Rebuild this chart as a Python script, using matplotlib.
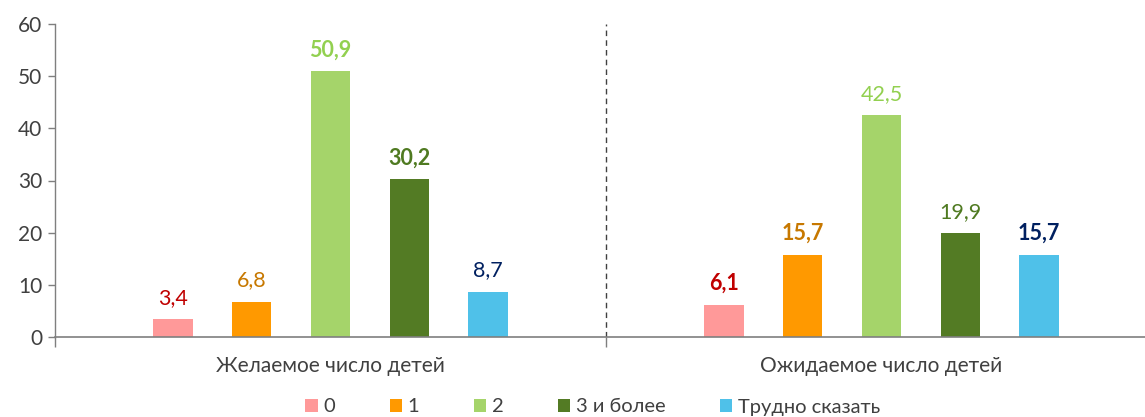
import matplotlib
matplotlib.use("Agg")
import matplotlib.pyplot as plt
import numpy as np

groups = ["Желаемое число детей", "Ожидаемое число детей"]
series = ["0", "1", "2", "3 и более", "Трудно сказать"]
values = [
    [3.4, 6.1],
    [6.8, 15.7],
    [50.9, 42.5],
    [30.2, 19.9],
    [8.7, 15.7],
]
bar_colors = ["#FF9999", "#FF9900", "#A5D46A", "#537B24", "#4FC1E9"]
label_colors = ["#C00000", "#C77800", "#92D050", "#4F7A21", "#002060"]
label_bold = [
    [False, True],
    [False, True],
    [True, False],
    [True, False],
    [False, True],
]

plt.rcParams["font.family"] = ["Lato", "DejaVu Sans"]
text_color = "#404040"

fig = plt.figure(figsize=(11.45, 4.17), dpi=100)
ax = fig.add_axes([55 / 1145, 1 - 337 / 417, 1090 / 1145, 313 / 417])

x = np.arange(len(groups))
step = 1 / 7
width = step / 2
for i, name in enumerate(series):
    pos = x + (i - 2) * step
    ax.bar(pos, values[i], width=width, color=bar_colors[i], label=name, zorder=2)
    for j, v in enumerate(values[i]):
        ax.annotate(f"{v:.1f}".replace(".", ","), (pos[j], v), xytext=(0, 8),
                    textcoords="offset points", ha="center", va="bottom",
                    fontsize=15.5, color=label_colors[i],
                    fontweight="bold" if label_bold[i][j] else "normal")

ax.set_xlim(-0.5, -0.5 + 1090 / 551)
ax.set_ylim(0, 60)
ax.set_yticks(range(0, 61, 10))
ax.tick_params(axis="y", labelsize=15, colors="#7f7f7f", length=5, width=1, pad=4)
ax.tick_params(axis="y", labelcolor=text_color)

ax.set_xticks([-0.5, 0.5])
ax.set_xticklabels(["", ""])
ax.tick_params(axis="x", direction="out", length=7, color="#7f7f7f", width=1)
for j, g in enumerate(groups):
    ax.text(x[j], -5.6, g, ha="center", va="center", fontsize=15, color=text_color)

ax.plot([0.5, 0.5], [0, 60], color="#404040", linestyle=(0, (4, 3)), linewidth=1, zorder=1)

for s in ["top", "right"]:
    ax.spines[s].set_visible(False)
ax.spines["left"].set_color("#7f7f7f")
ax.spines["bottom"].set_color("#7f7f7f")
ax.spines["left"].set_linewidth(1)
ax.spines["bottom"].set_linewidth(1.2)

leg = fig.legend(loc="center", bbox_to_anchor=(593 / 1145, 1 - 407 / 417), ncol=5,
                 frameon=False, fontsize=14.5, handlelength=0.6, handleheight=0.6,
                 handletextpad=0.3, columnspacing=2.7, labelcolor=text_color)

fig.savefig("out.png", dpi=100)
plt.close()
